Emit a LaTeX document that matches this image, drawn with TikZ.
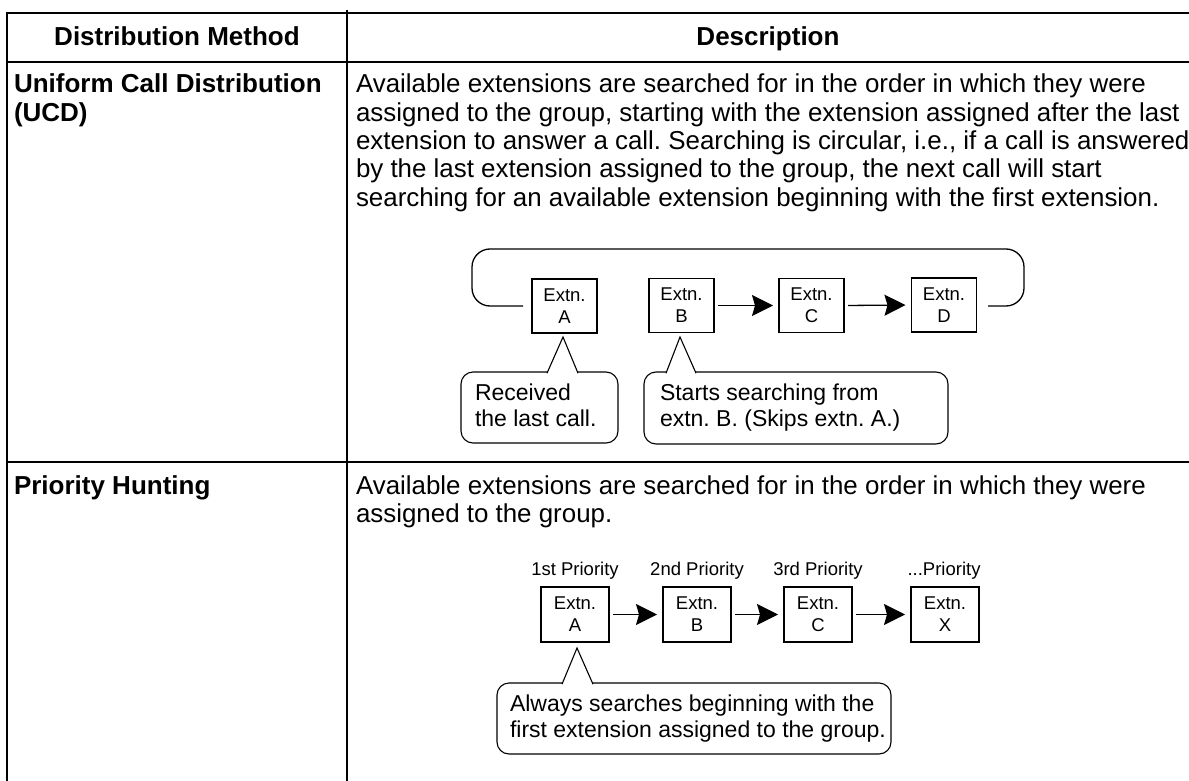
\documentclass[tikz,border=0pt]{standalone}
\usepackage{fontspec}
\setmainfont{Liberation Sans}
\usetikzlibrary{arrows.meta,calc}
\frenchspacing
\begin{document}
\begin{tikzpicture}[x=1pt,y=-1pt,
  every node/.style={inner sep=0pt, outer sep=0pt},
  body/.style={anchor=base west, font=\fontsize{25.9}{28}\selectfont},
  head/.style={anchor=base, font=\fontsize{26}{28}\selectfont\bfseries},
  rowhead/.style={anchor=base west, font=\fontsize{26}{28}\selectfont\bfseries},
  rulethick/.style={line width=2pt},
  extn/.style={draw, line width=1.1pt, minimum width=65pt, minimum height=54pt, align=center, font=\fontsize{18.5}{22}\selectfont},
  pext/.style={extn, minimum width=68pt, minimum height=55pt},
  prio/.style={anchor=base, font=\fontsize{18.5}{22}\selectfont},
  callbox/.style={draw, line width=1.1pt, rounded corners=12pt},
  calltext/.style={anchor=base west, font=\fontsize{23}{26}\selectfont},
  pointer/.style={line width=1.1pt, fill=white, line join=miter},
  conn/.style={line width=1.3pt},
  arr/.style={conn, -{Stealth[length=21pt, width=21pt, inset=3pt]}, shorten <=4pt, shorten >=6pt}
]
\useasboundingbox (0,0) rectangle (1189,781);
\fill[white] (0,0) rectangle (1189,781);

% table rules
\draw[rulethick] (7,13) -- (1189,13);
\draw[rulethick] (7,62) -- (1189,62);
\draw[rulethick] (7,462) -- (1189,462);
\draw[rulethick] (7,12) -- (7,781);
\draw[rulethick] (347,10) -- (347,781);

% header
\node[head] (hmethod) at (177,46) {Distribution Method};
\node[head] (hdesc) at (768,46) {Description};

% UCD row
\node[rowhead] (ucd1) at (14,93) {Uniform Call Distribution};
\node[rowhead] (ucd2) at (14,121.3) {(UCD)};
\node[body] (ud1) at (356,93) {Available extensions are searched for in the order in which they were};
\node[body] (ud2) at (356,121.3) {assigned to the group, starting with the extension assigned after the last};
\node[body] (ud3) at (356,149.6) {extension to answer a call. Searching is circular, i.e., if a call is answered};
\node[body] (ud4) at (356,177.9) {by the last extension assigned to the group, the next call will start};
\node[body] (ud5) at (356,206.2) {searching for an available extension beginning with the first extension.};

% UCD diagram
\node[extn] (ua) at (564.5,306) {Extn.\\A};
\node[extn] (ub) at (681.5,305.5) {Extn.\\B};
\node[extn] (uc) at (811.5,305.5) {Extn.\\C};
\node[extn] (udd) at (944,305) {Extn.\\D};
\draw[arr] (ub.east) -- (uc.west);
\draw[arr] (uc.east) -- (udd.west);
\coordinate (loopstart) at (523,306);
\coordinate (loopend) at (988,306);
\draw[conn, rounded corners=18pt] (loopstart) -- (472,306) -- (472,249) -- (1024,249) -- (1024,306) -- (loopend);

\node[callbox, minimum width=157pt, minimum height=71pt] (cb1) at (539.5,407.5) {};
\draw[pointer] (547,373.2) -- (563,337) -- (578,373.2);
\node[calltext] (ct1a) at (475,400) {Received};
\node[calltext] (ct1b) at (475,426) {the last call.};

\node[callbox, minimum width=304pt, minimum height=72pt] (cb2) at (796,408) {};
\draw[pointer] (666,373.2) -- (680,337) -- (696,373.2);
\node[calltext] (ct2a) at (660,400) {Starts searching from};
\node[calltext] (ct2b) at (660,426) {extn. B. (Skips extn. A.)};

% Priority row
\node[rowhead] (ph) at (14,494) {Priority Hunting};
\node[body] (pd1) at (356,494) {Available extensions are searched for in the order in which they were};
\node[body] (pd2) at (356,522.3) {assigned to the group.};

\node[prio] (pl1) at (575,575) {1st Priority};
\node[prio] (pl2) at (697,575) {2nd Priority};
\node[prio] (pl3) at (818,575) {3rd Priority};
\node[prio] (pl4) at (944,575) {...Priority};

\node[pext] (pa) at (575,614.5) {Extn.\\A};
\node[pext] (pb) at (697,614.5) {Extn.\\B};
\node[pext] (pc) at (818,614.5) {Extn.\\C};
\node[pext] (px) at (945,614.5) {Extn.\\X};
\draw[arr] (pa.east) -- (pb.west);
\draw[arr] (pb.east) -- (pc.west);
\draw[arr] (pc.east) -- (px.west);

\node[callbox, minimum width=394pt, minimum height=71pt] (cb3) at (694,718.5) {};
\draw[pointer] (562,684.2) -- (577,648) -- (593,684.2);
\node[calltext] (ct3a) at (510,711) {Always searches beginning with the};
\node[calltext] (ct3b) at (510,737) {first extension assigned to the group.};
\end{tikzpicture}
\end{document}
